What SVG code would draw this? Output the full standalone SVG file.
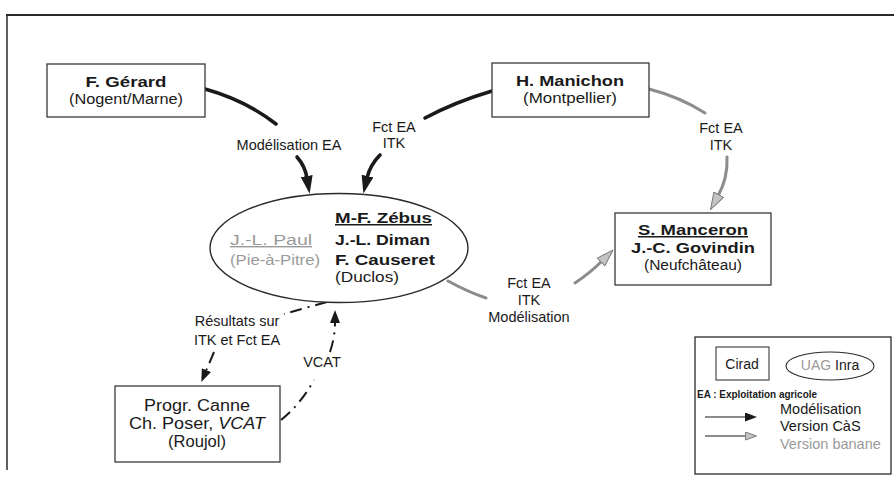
<svg xmlns="http://www.w3.org/2000/svg" width="894" height="477" viewBox="0 0 894 477">
<style>
text{font-family:"Liberation Sans",Arial,sans-serif;fill:#1a1a1a}
.nm{font-size:15px;font-weight:bold}
.sub{font-size:14px}
.lab{font-size:14.5px}
.gr{fill:#9a9a9a}
.box{fill:#fff;stroke:#3a3a3a;stroke-width:1.3}
.blk{fill:none;stroke:#1a1a1a;stroke-width:3.6;stroke-linecap:round}
.gry{fill:none;stroke:#8c8c8c;stroke-width:3;stroke-linecap:round}
.dd{fill:none;stroke:#1a1a1a;stroke-width:2;stroke-dasharray:12 6 2 6}
.u{text-decoration:underline}
</style>
<defs>
<marker id="ahb" markerUnits="userSpaceOnUse" viewBox="0 0 18 12" refX="2" refY="6" markerWidth="18" markerHeight="12" orient="auto"><path d="M0,0 L18,6 L0,12 z" fill="#1a1a1a"/></marker>
<marker id="ahg" markerUnits="userSpaceOnUse" viewBox="0 0 18 12" refX="2" refY="6" markerWidth="18" markerHeight="12" orient="auto"><path d="M0.5,0.5 L17.5,6 L0.5,11.5 z" fill="#c4c4c4" stroke="#7a7a7a" stroke-width="1"/></marker>
<marker id="ahs" markerUnits="userSpaceOnUse" viewBox="0 0 13 10" refX="1" refY="5" markerWidth="13" markerHeight="10" orient="auto"><path d="M0,0 L13,5 L0,10 z" fill="#1a1a1a"/></marker>
<marker id="ahl" markerUnits="userSpaceOnUse" viewBox="0 0 12 9" refX="1" refY="4.5" markerWidth="12" markerHeight="9" orient="auto"><path d="M0,0 L12,4.5 L0,9 z" fill="#1a1a1a"/></marker>
<marker id="ahlg" markerUnits="userSpaceOnUse" viewBox="0 0 12 9" refX="1" refY="4.5" markerWidth="12" markerHeight="9" orient="auto"><path d="M0.5,0.5 L11.5,4.5 L0.5,8.5 z" fill="#c4c4c4" stroke="#7a7a7a" stroke-width="1"/></marker>
</defs>
<rect width="894" height="477" fill="#fff"/>
<g id="frame">
<line x1="6" y1="15" x2="894" y2="15" stroke="#2a2a2a" stroke-width="1.8"/>
<line x1="7" y1="15" x2="7" y2="470" stroke="#2a2a2a" stroke-width="1.5"/>
</g>
<g id="connectors">
<path class="blk" d="M205,89 Q245,100 276,124"/>
<path class="blk" d="M297,157 Q305,166 307,178" marker-end="url(#ahb)"/>
<path class="blk" d="M492,91 Q455,102 425,118"/>
<path class="blk" d="M380,155 Q370,165 367,178" marker-end="url(#ahb)"/>
<path class="gry" d="M649,89 Q680,97 705,113"/>
<path class="gry" d="M727,157 Q728,178 718,196" marker-end="url(#ahg)"/>
<path class="gry" d="M448,281 Q468,292 486,298"/>
<path class="gry" d="M575,283 Q590,273 602,261" marker-end="url(#ahg)"/>
<path class="dd" d="M327,302 Q305,308 284,314"/>
<path class="dd" d="M214,352 L206,371" marker-end="url(#ahs)"/>
<path class="dd" d="M281,420 Q300,405 314,380"/>
<path class="dd" d="M330,352 Q335,337 335,322" marker-end="url(#ahs)"/>
</g>
<g id="labels">
<text class="lab" x="289" y="150" text-anchor="middle">Modélisation EA</text>
<text class="lab" x="394" y="132" text-anchor="middle">Fct EA</text>
<text class="lab" x="394" y="148" text-anchor="middle">ITK</text>
<text class="lab" x="721" y="133" text-anchor="middle">Fct EA</text>
<text class="lab" x="721" y="150" text-anchor="middle">ITK</text>
<text class="lab" x="529" y="288" text-anchor="middle">Fct EA</text>
<text class="lab" x="529" y="305" text-anchor="middle">ITK</text>
<text class="lab" x="529" y="322" text-anchor="middle">Modélisation</text>
<text class="lab" x="237" y="326" text-anchor="middle">Résultats sur</text>
<text class="lab" x="237" y="345" text-anchor="middle">ITK et Fct EA</text>
<text class="lab" x="322" y="367" text-anchor="middle">VCAT</text>
</g>
<g id="gerard">
<rect class="box" x="47" y="64" width="158" height="53"/>
<text class="nm" x="126" y="87" text-anchor="middle" textLength="81" lengthAdjust="spacingAndGlyphs">F. Gérard</text>
<text class="sub" x="126" y="104" text-anchor="middle" textLength="114" lengthAdjust="spacingAndGlyphs">(Nogent/Marne)</text>
</g>
<g id="manichon">
<rect class="box" x="492" y="63" width="157" height="54"/>
<text class="nm" x="570" y="86" text-anchor="middle" textLength="108" lengthAdjust="spacingAndGlyphs">H. Manichon</text>
<text class="sub" x="570" y="103" text-anchor="middle" textLength="94" lengthAdjust="spacingAndGlyphs">(Montpellier)</text>
</g>
<g id="manceron">
<rect class="box" x="615" y="213" width="156" height="72"/>
<text class="nm u" x="693" y="235" text-anchor="middle" textLength="110" lengthAdjust="spacingAndGlyphs">S. Manceron</text>
<text class="nm" x="693" y="253" text-anchor="middle" textLength="124" lengthAdjust="spacingAndGlyphs">J.-C. Govindin</text>
<text class="sub" x="693" y="270" text-anchor="middle" textLength="98" lengthAdjust="spacingAndGlyphs">(Neufchâteau)</text>
</g>
<g id="guadeloupe">
<ellipse cx="339" cy="248" rx="129" ry="54.5" fill="#fff" stroke="#2a2a2a" stroke-width="1.4"/>
<text class="nm u" x="335" y="223" textLength="97" lengthAdjust="spacingAndGlyphs">M-F. Zébus</text>
<text class="nm" x="335" y="245" textLength="95" lengthAdjust="spacingAndGlyphs">J.-L. Diman</text>
<text class="nm" x="335" y="265" textLength="100" lengthAdjust="spacingAndGlyphs">F. Causeret</text>
<text class="sub" x="335" y="282" textLength="64" lengthAdjust="spacingAndGlyphs">(Duclos)</text>
<text class="sub gr u" x="230" y="245" textLength="82" lengthAdjust="spacingAndGlyphs">J.-L. Paul</text>
<text class="sub gr" x="230" y="265" textLength="90" lengthAdjust="spacingAndGlyphs">(Pie-à-Pitre)</text>
</g>
<g id="roujol">
<rect class="box" x="115" y="386" width="165" height="76"/>
<text style="font-size:16px" x="197" y="411" text-anchor="middle" textLength="106" lengthAdjust="spacingAndGlyphs">Progr. Canne</text>
<text style="font-size:16px" x="197" y="429" text-anchor="middle" textLength="136" lengthAdjust="spacingAndGlyphs">Ch. Poser, <tspan font-style="italic">VCAT</tspan></text>
<text style="font-size:16px" x="197" y="447" text-anchor="middle" textLength="58" lengthAdjust="spacingAndGlyphs">(Roujol)</text>
</g>
<g id="legend">
<rect x="695" y="337" width="196" height="137" fill="#fff" stroke="#2a2a2a" stroke-width="1.3"/>
<rect x="716" y="347" width="53" height="33" fill="#fff" stroke="#3a3a3a" stroke-width="1.1"/>
<text x="742" y="369" text-anchor="middle" style="font-size:14px">Cirad</text>
<ellipse cx="830" cy="366" rx="44" ry="14" fill="#fff" stroke="#2a2a2a" stroke-width="1.1"/>
<text x="830" y="370" text-anchor="middle" style="font-size:14px"><tspan class="gr">UAG</tspan> Inra</text>
<text x="697" y="398" style="font-size:10px;font-weight:bold" textLength="120" lengthAdjust="spacingAndGlyphs">EA : Exploitation agricole</text>
<text class="lab" x="780" y="414">Modélisation</text>
<text class="lab" x="780" y="431">Version CàS</text>
<text class="lab gr" x="780" y="449">Version banane</text>
<path d="M705,417 L746,417" stroke="#1a1a1a" stroke-width="1.2" fill="none" marker-end="url(#ahl)"/>
<path d="M705,436 L746,436" stroke="#8c8c8c" stroke-width="2.2" fill="none" marker-end="url(#ahlg)"/>
</g>
</svg>
